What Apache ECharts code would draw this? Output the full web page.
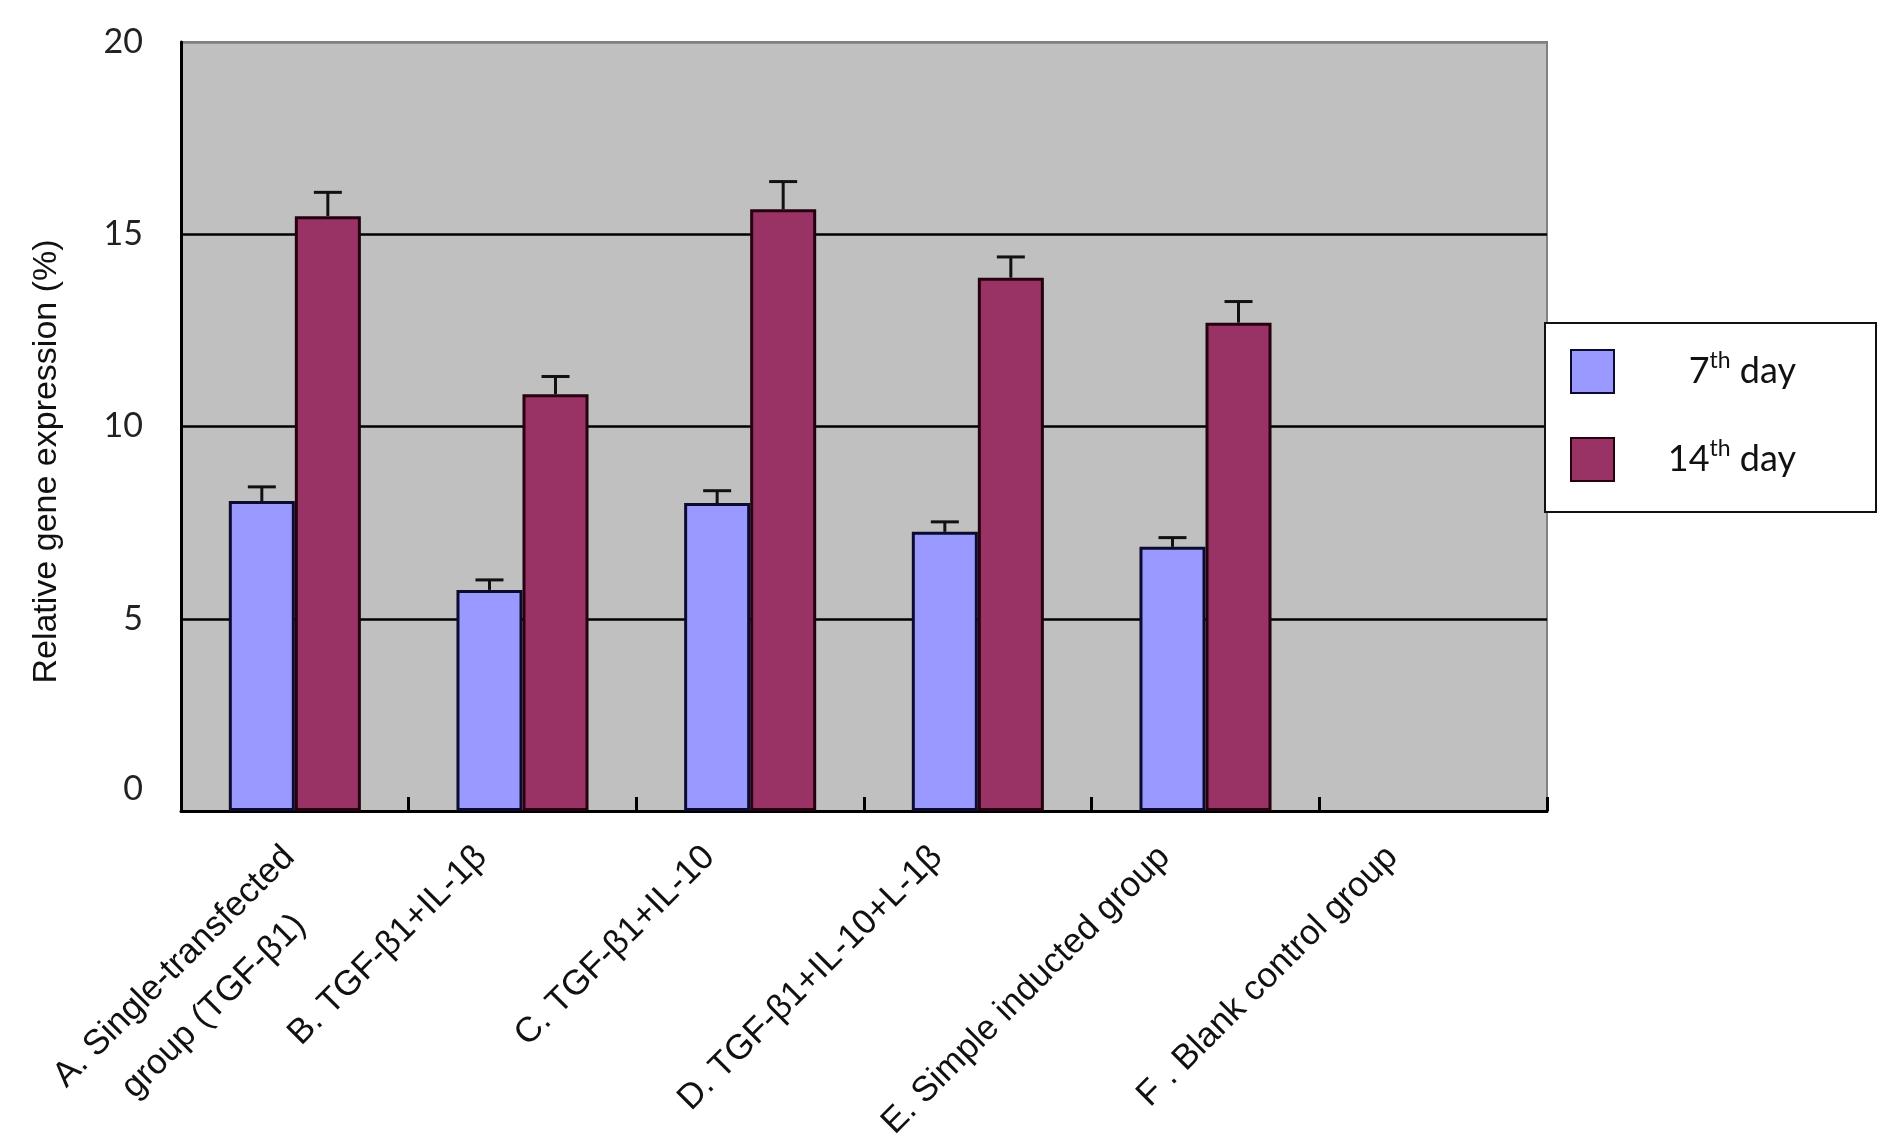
<!DOCTYPE html>
<html>
<head>
<meta charset="utf-8">
<script src="https://cdn.jsdelivr.net/npm/echarts@6/dist/echarts.min.js"></script>
<style>
html,body{margin:0;padding:0;background:#fff;}
#chart{width:1890px;height:1134px;}
</style>
</head>
<body>
<div id="chart"></div>
<script>
const categories = [
  'A. Single-transfected\ngroup (TGF-β1)',
  'B. TGF-β1+IL-1β',
  'C. TGF-β1+IL-10',
  'D. TGF-β1+IL-10+L-1β',
  'E. Simple inducted group',
  'F . Blank control group'
];
const seriesNames = ['7th day', '14th day'];
const day7 = [8.06, 5.75, 8.01, 7.26, 6.87, null];
const day14 = [15.47, 10.84, 15.65, 13.87, 12.70, null];
const err7 = [0.37, 0.26, 0.32, 0.26, 0.24, null];
const err14 = [0.62, 0.46, 0.72, 0.54, 0.55, null];
const yMin = 0, yMax = 20, yStep = 5;
const yAxisTitle = 'Relative gene expression (%)';

const BAR_FRAC = 0.29;
const LEG_TEXT_W = 177;
const LEG_FONT = 36, LEG_SUP = 23;
const XL_FONT = 35, XL_LH = 56;
const XL_PAD = 58, XL_PAD_MULTI = 33, XL_DROP_MULTI = 25;

function errData(vals, errs) {
  const out = [];
  vals.forEach((v, i) => { if (v != null && errs[i] != null) out.push([i, v, errs[i]]); });
  return out;
}
function errRender(side) {
  return function (params, api) {
    const idx = api.value(0), val = api.value(1), e = api.value(2);
    const base = api.coord([idx, val]);
    const top = api.coord([idx, val + e]);
    const band = api.size([1, 0])[0];
    const x = base[0] + side * band * BAR_FRAC / 2;
    const st = { stroke: '#111', lineWidth: 3 };
    return {
      type: 'group',
      children: [
        { type: 'line', shape: { x1: x, y1: base[1], x2: x, y2: top[1] }, style: st },
        { type: 'line', shape: { x1: x - 14, y1: top[1], x2: x + 14, y2: top[1] }, style: st }
      ]
    };
  };
}

// legend text: right-aligned inside a fixed-width box, with superscript "th"
const measureCtx = document.createElement('canvas').getContext('2d');
function textW(t, size) { measureCtx.font = size + 'px Lato'; return measureCtx.measureText(t).width; }
const legendRich = {
  n: { fontSize: LEG_FONT, fontFamily: 'Lato', color: '#111', lineHeight: 44 },
  s: { fontSize: LEG_SUP, fontFamily: 'Lato', color: '#111', verticalAlign: 'top', lineHeight: 44, padding: [0, 0, 14, 0] }
};
const legendParts = {};
seriesNames.forEach((name, i) => {
  const m = name.match(/^(\d+)(th)(.*)$/);
  const w = textW(m[1], LEG_FONT) + textW(m[2], LEG_SUP) + textW(m[3], LEG_FONT);
  const pad = Math.max(0, LEG_TEXT_W - w);
  legendRich['a' + i] = { fontSize: LEG_FONT, fontFamily: 'Lato', color: '#111', lineHeight: 44, padding: [0, 0, 0, pad] };
  legendParts[name] = '{a' + i + '|' + m[1] + '}{s|' + m[2] + '}{n|' + m[3] + '}';
});

// category items: multi-line labels sit a little differently in the original
const xAxisData = categories.map(c => c.indexOf('\n') >= 0
  ? { value: c, textStyle: { padding: [0, XL_PAD_MULTI, 0, 0] } }
  : c);

const chart = echarts.init(document.getElementById('chart'), null, { renderer: 'canvas' });
chart.setOption({
  backgroundColor: '#ffffff',
  animation: false,
  grid: {
    left: 181, top: 42, right: 343, bottom: 323,
    outerBoundsMode: 'none', containLabel: false,
    show: true, backgroundColor: '#C0C0C0', borderColor: '#808080', borderWidth: 2
  },
  legend: {
    data: seriesNames,
    orient: 'vertical',
    left: 1545, top: 323,
    backgroundColor: '#ffffff',
    borderColor: '#111', borderWidth: 2, borderRadius: 0,
    padding: [26, 80, 30, 25],
    itemGap: 43, itemWidth: 43, itemHeight: 43,
    icon: 'rect',
    formatter: function (name) { return legendParts[name]; },
    textStyle: { rich: legendRich }
  },
  xAxis: {
    type: 'category',
    data: xAxisData,
    axisLine: { show: true, lineStyle: { color: '#000', width: 3 } },
    axisTick: { show: true, inside: true, length: 14, interval: 0, lineStyle: { color: '#000', width: 3 } },
    axisLabel: {
      interval: 0, rotate: 45, margin: 0,
      padding: [0, XL_PAD, 0, 0],
      fontSize: XL_FONT, fontFamily: 'Liberation Sans', color: '#111', lineHeight: XL_LH,
      formatter: function (v) {
        const lines = v.split('\n');
        // keep the first line near the standard label position; extra lines hang below it
        const lead = new Array(lines.length - 1).fill('{e| }');
        return lead.concat(lines.map(s => '{c|' + s + '}')).join('\n');
      },
      rich: {
        c: { align: 'center', fontSize: XL_FONT, fontFamily: 'Liberation Sans', color: '#111', lineHeight: XL_LH },
        e: { fontSize: 10, lineHeight: XL_LH + 2 * XL_DROP_MULTI }
      }
    },
    splitLine: { show: false }
  },
  yAxis: {
    type: 'value',
    min: yMin, max: yMax, interval: yStep,
    name: yAxisTitle,
    nameLocation: 'middle', nameRotate: 90, nameGap: 117,
    nameTextStyle: { fontSize: 34, fontFamily: 'Liberation Sans', color: '#111', padding: [0, 70, 0, 0] },
    axisLine: { show: true, lineStyle: { color: '#000', width: 3 } },
    axisTick: { show: false },
    axisLabel: {
      margin: 38, fontSize: 34, fontFamily: 'Lato', color: '#222',
      formatter: function (v) { return v === 0 ? '{z|0}' : String(v); },
      rich: { z: { fontSize: 34, fontFamily: 'Lato', color: '#222', padding: [0, 0, 44, 0] } }
    },
    splitLine: { show: true, lineStyle: { color: ['#000', '#000', '#000', '#000', '#808080'], width: 2.5 } }
  },
  series: [
    {
      name: seriesNames[0], type: 'bar', data: day7,
      barWidth: (BAR_FRAC * 100) + '%', barGap: '0%',
      itemStyle: { color: '#9999FF', borderColor: '#0b0b30', borderWidth: 3 }
    },
    {
      name: seriesNames[1], type: 'bar', data: day14,
      barWidth: (BAR_FRAC * 100) + '%', barGap: '0%',
      itemStyle: { color: '#993366', borderColor: '#26000f', borderWidth: 3 }
    },
    {
      name: 'err7', type: 'custom', data: errData(day7, err7),
      encode: { x: 0, y: 1 }, renderItem: errRender(-1), z: 5, silent: true
    },
    {
      name: 'err14', type: 'custom', data: errData(day14, err14),
      encode: { x: 0, y: 1 }, renderItem: errRender(1), z: 5, silent: true
    }
  ]
});
</script>
</body>
</html>
